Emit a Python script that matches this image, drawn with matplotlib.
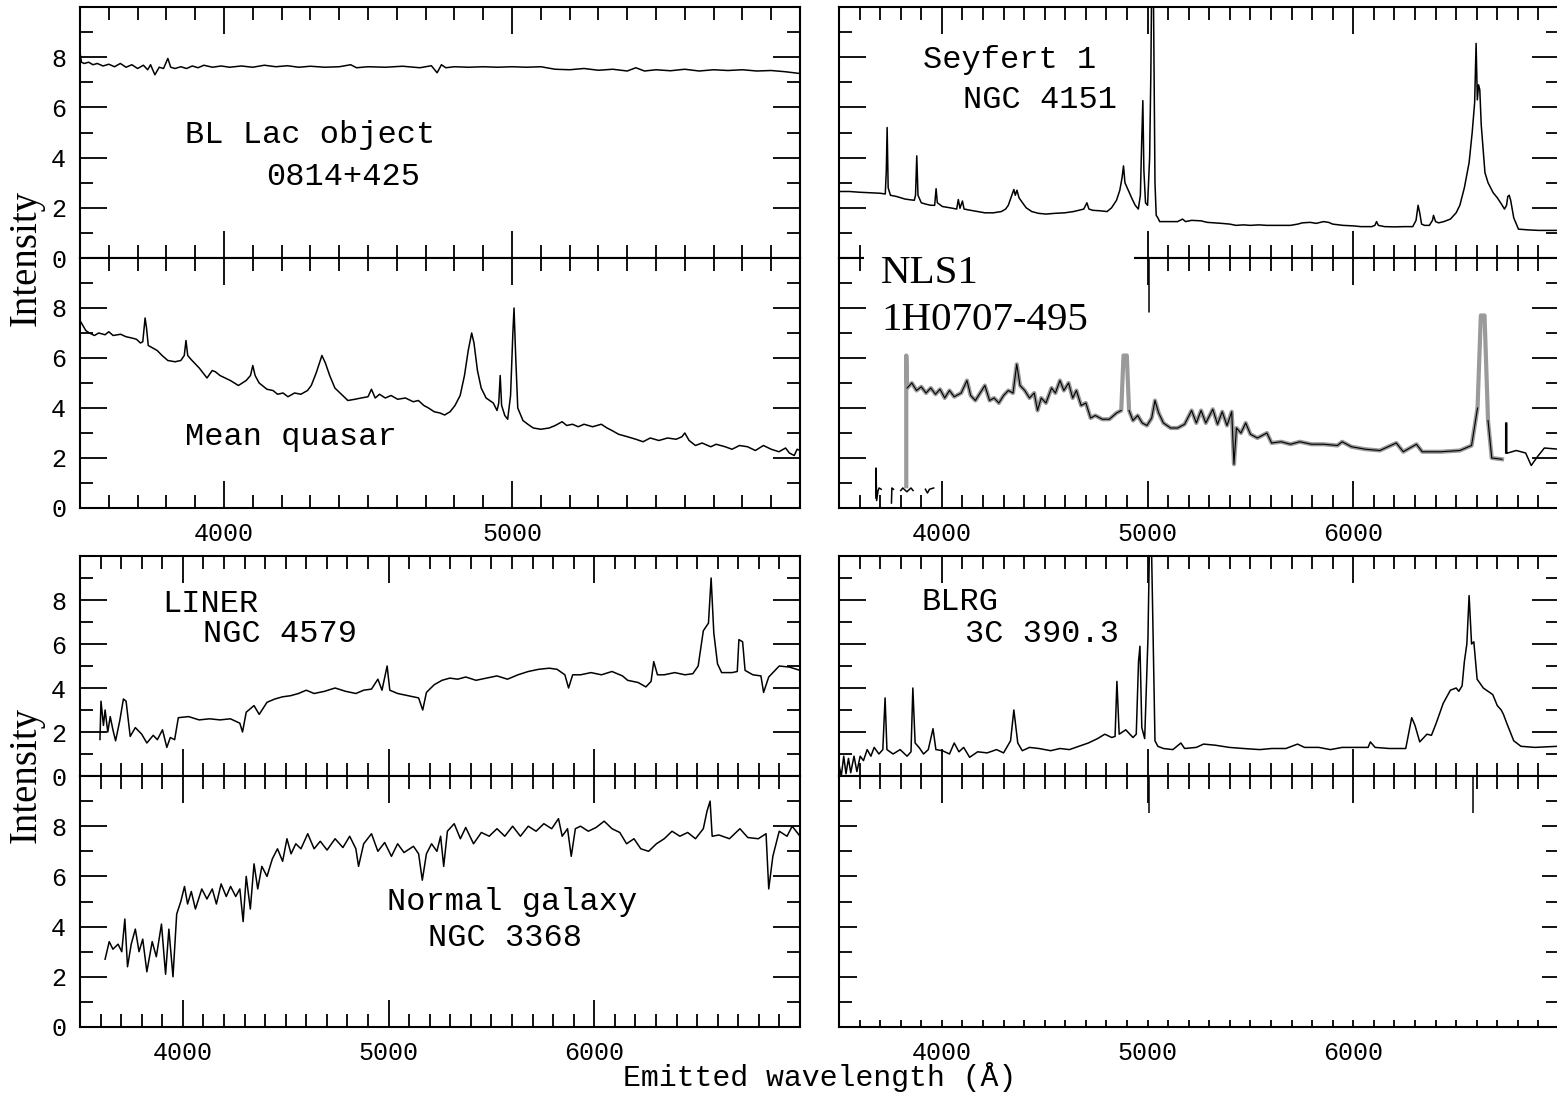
import numpy as np
import matplotlib.pyplot as plt
from matplotlib.ticker import FixedLocator, MultipleLocator
from matplotlib.patches import Rectangle

plt.rcParams['font.family'] = ['Liberation Mono', 'DejaVu Sans Mono']

W, H = 1557, 1094
nan = np.nan

# ---- spectra: (wavelength in Angstrom, intensity) ----
bllac = [(3500, 8.2), (3505, 7.8), (3515, 7.75), (3530, 7.8), (3545, 7.7), (3560, 7.75),
         (3580, 7.65), (3600, 7.72), (3620, 7.62), (3640, 7.75), (3660, 7.6), (3680, 7.7),
         (3700, 7.55), (3720, 7.68), (3735, 7.5), (3745, 7.7), (3760, 7.3), (3775, 7.6),
         (3790, 7.55), (3805, 7.95), (3815, 7.6), (3830, 7.55), (3850, 7.62), (3870, 7.55),
         (3890, 7.65), (3910, 7.58), (3930, 7.68), (3960, 7.6), (3990, 7.65), (4020, 7.6),
         (4060, 7.65), (4100, 7.6), (4140, 7.68), (4180, 7.62), (4220, 7.66), (4260, 7.6),
         (4300, 7.64), (4350, 7.6), (4400, 7.62), (4440, 7.7), (4460, 7.58), (4500, 7.62),
         (4560, 7.6), (4620, 7.64), (4680, 7.58), (4720, 7.66), (4740, 7.38), (4755, 7.7),
         (4770, 7.58), (4800, 7.62), (4850, 7.6), (4900, 7.62), (4950, 7.6), (5000, 7.62),
         (5050, 7.6), (5100, 7.62), (5150, 7.52), (5200, 7.5), (5250, 7.55), (5300, 7.48),
         (5350, 7.52), (5400, 7.45), (5430, 7.58), (5460, 7.45), (5500, 7.5), (5550, 7.46),
         (5600, 7.52), (5650, 7.45), (5700, 7.5), (5750, 7.47), (5800, 7.5), (5850, 7.45),
         (5900, 7.47), (5950, 7.42), (6000, 7.35)]

quasar = [(3500, 7.5), (3510, 7.3), (3520, 7.1), (3533, 7.0), (3550, 6.9), (3565, 7.0),
          (3587, 6.93), (3600, 7.05), (3615, 6.9), (3641, 6.95), (3660, 6.85), (3680, 6.8),
          (3696, 6.75), (3710, 6.6), (3718, 6.65), (3726, 7.6), (3731, 7.2), (3737, 6.5),
          (3745, 6.45), (3768, 6.3), (3785, 6.1), (3805, 5.9), (3830, 5.85), (3850, 5.9),
          (3862, 6.1), (3868, 6.7), (3874, 6.1), (3885, 5.95), (3914, 5.6), (3941, 5.2),
          (3959, 5.5), (3970, 5.45), (3986, 5.3), (4022, 5.1), (4050, 4.9), (4077, 5.1),
          (4092, 5.3), (4100, 5.7), (4108, 5.3), (4122, 5.0), (4149, 4.75), (4170, 4.7),
          (4186, 4.55), (4205, 4.6), (4222, 4.45), (4245, 4.6), (4267, 4.55), (4290, 4.7),
          (4303, 4.9), (4320, 5.4), (4340, 6.1), (4352, 5.8), (4367, 5.3), (4385, 4.8),
          (4403, 4.6), (4430, 4.3), (4455, 4.35), (4476, 4.4), (4500, 4.45), (4512, 4.75),
          (4525, 4.4), (4540, 4.55), (4560, 4.4), (4580, 4.5), (4603, 4.35), (4630, 4.4),
          (4657, 4.25), (4675, 4.3), (4694, 4.1), (4710, 4.0), (4730, 3.85), (4750, 3.8),
          (4766, 3.72), (4785, 3.85), (4802, 4.1), (4820, 4.5), (4835, 5.3), (4848, 6.3),
          (4860, 7.0), (4868, 6.6), (4880, 5.5), (4893, 4.8), (4910, 4.4), (4935, 4.2),
          (4948, 3.9), (4954, 4.2), (4959, 5.3), (4964, 4.1), (4975, 3.7), (4985, 3.55),
          (4995, 4.5), (5003, 7.0), (5007, 8.0), (5013, 6.0), (5020, 4.0), (5038, 3.5),
          (5055, 3.35), (5074, 3.2), (5100, 3.15), (5129, 3.2), (5150, 3.3), (5174, 3.45),
          (5190, 3.3), (5210, 3.35), (5230, 3.25), (5250, 3.35), (5280, 3.25), (5310, 3.35),
          (5330, 3.2), (5347, 3.1), (5370, 2.95), (5401, 2.85), (5430, 2.75), (5455, 2.65),
          (5480, 2.8), (5510, 2.7), (5540, 2.8), (5570, 2.75), (5590, 2.85), (5600, 3.0),
          (5615, 2.7), (5637, 2.5), (5660, 2.6), (5690, 2.45), (5709, 2.55), (5740, 2.45),
          (5764, 2.35), (5790, 2.5), (5818, 2.45), (5845, 2.3), (5873, 2.5), (5900, 2.35),
          (5927, 2.25), (5950, 2.4), (5963, 2.2), (5980, 2.1), (5990, 2.35), (6000, 2.3)]

seyfert1 = [(3500, 2.65), (3550, 2.65), (3600, 2.62), (3650, 2.6), (3700, 2.58), (3725, 2.55),
            (3730, 3.5), (3734, 5.2), (3739, 2.8), (3750, 2.5), (3780, 2.45), (3800, 2.4),
            (3820, 2.35), (3845, 2.32), (3866, 2.3), (3872, 2.5), (3878, 4.07), (3884, 2.5),
            (3900, 2.2), (3920, 2.15), (3946, 2.1), (3965, 2.1), (3972, 2.76), (3978, 2.2),
            (4003, 2.05), (4040, 2.0), (4072, 1.95), (4080, 2.33), (4088, 1.98), (4100, 2.27),
            (4108, 1.95), (4140, 1.9), (4175, 1.85), (4209, 1.8), (4250, 1.8), (4289, 1.85),
            (4310, 1.95), (4323, 2.1), (4340, 2.5), (4350, 2.73), (4357, 2.5), (4365, 2.7),
            (4375, 2.4), (4392, 2.2), (4410, 2.0), (4437, 1.85), (4470, 1.78), (4506, 1.75),
            (4550, 1.78), (4597, 1.8), (4640, 1.85), (4666, 1.9), (4690, 1.95), (4705, 2.2),
            (4715, 1.95), (4734, 1.9), (4770, 1.88), (4803, 1.85), (4825, 2.0), (4849, 2.3),
            (4865, 2.7), (4876, 3.2), (4883, 3.67), (4890, 3.0), (4906, 2.7), (4925, 2.35),
            (4940, 2.1), (4955, 1.95), (4965, 2.5), (4971, 4.5), (4977, 6.27), (4982, 3.5),
            (4990, 2.2), (5000, 2.1), (5010, 4.0), (5016, 7.4), (5020, 11.0), (5028, 11.0),
            (5032, 7.0), (5036, 3.0), (5042, 1.7), (5050, 1.6), (5059, 1.45), (5100, 1.45),
            (5146, 1.45), (5170, 1.55), (5185, 1.45), (5214, 1.5), (5260, 1.48), (5290, 1.42),
            (5329, 1.4), (5360, 1.38), (5400, 1.35), (5430, 1.3), (5466, 1.32), (5500, 1.3),
            (5540, 1.32), (5580, 1.3), (5640, 1.3), (5695, 1.3), (5730, 1.35), (5752, 1.4),
            (5790, 1.42), (5820, 1.38), (5855, 1.45), (5880, 1.42), (5900, 1.35), (5950, 1.3),
            (6000, 1.28), (6037, 1.25), (6090, 1.25), (6105, 1.3), (6113, 1.45), (6122, 1.3),
            (6152, 1.25), (6200, 1.24), (6250, 1.25), (6289, 1.25), (6305, 1.5), (6315, 2.1),
            (6323, 1.8), (6332, 1.35), (6346, 1.3), (6370, 1.3), (6385, 1.5), (6390, 1.7),
            (6400, 1.45), (6415, 1.4), (6440, 1.45), (6472, 1.55), (6500, 1.8), (6518, 2.1),
            (6540, 2.8), (6563, 3.8), (6578, 5.0), (6590, 6.2), (6597, 8.55), (6603, 6.3),
            (6609, 6.9), (6615, 6.7), (6622, 5.3), (6640, 3.4), (6655, 3.0), (6680, 2.6),
            (6700, 2.4), (6720, 2.15), (6735, 1.95), (6745, 2.1), (6751, 2.45), (6758, 2.5),
            (6765, 2.3), (6780, 1.6), (6803, 1.15), (6850, 1.12), (6900, 1.1), (6950, 1.1),
            (7000, 1.1)]

nls1 = [(3827, 0.87), (3827, 6.1), (3831, 4.8), (3854, 5.0), (3877, 4.7), (3900, 4.85),
        (3923, 4.6), (3946, 4.8), (3969, 4.55), (3991, 4.75), (4014, 4.4), (4037, 4.7),
        (4060, 4.45), (4094, 4.6), (4122, 5.1), (4140, 4.5), (4163, 4.3), (4186, 4.6),
        (4209, 4.9), (4232, 4.3), (4254, 4.4), (4277, 4.2), (4300, 4.5), (4323, 4.7),
        (4346, 4.6), (4364, 5.75), (4380, 4.9), (4403, 4.7), (4426, 4.4), (4449, 4.6),
        (4465, 3.9), (4483, 4.4), (4506, 4.2), (4533, 4.8), (4552, 4.6), (4574, 5.1),
        (4593, 4.7), (4616, 5.0), (4636, 4.4), (4654, 4.7), (4677, 4.1), (4700, 4.2),
        (4723, 3.6), (4746, 3.7), (4780, 3.55), (4814, 3.55), (4849, 3.8), (4872, 3.9),
        (4883, 6.1), (4899, 6.1), (4910, 3.9), (4929, 3.5), (4952, 3.7), (4974, 3.4),
        (4997, 3.3), (5020, 3.6), (5036, 4.3), (5054, 3.8), (5077, 3.4), (5112, 3.2),
        (5146, 3.2), (5180, 3.35), (5214, 3.9), (5237, 3.4), (5260, 3.9), (5283, 3.4),
        (5317, 3.95), (5340, 3.35), (5363, 3.85), (5386, 3.3), (5409, 3.85), (5420, 1.75),
        (5432, 3.2), (5454, 3.0), (5477, 3.4), (5500, 2.95), (5534, 2.8), (5580, 3.0),
        (5603, 2.6), (5649, 2.65), (5695, 2.55), (5740, 2.65), (5797, 2.55), (5855, 2.55),
        (5923, 2.5), (5946, 2.65), (5991, 2.45), (6060, 2.35), (6129, 2.3), (6209, 2.6),
        (6243, 2.25), (6307, 2.55), (6335, 2.25), (6426, 2.25), (6518, 2.3), (6575, 2.5),
        (6604, 4.0), (6620, 7.7), (6638, 7.7), (6655, 3.5), (6673, 2.0), (6723, 1.95)]

# bits of the older spectrum left visible under the pasted NLS1 plot
nls1_rest = [(3680, 0.4), (3680, 1.6), (3683, 0.3), (3690, 0.7), (3695, 0.8), (3705, 0.75),
             (nan, nan), (3755, 0.2), (3757, 0.8), (3765, 0.75), (nan, nan),
             (3800, 0.7), (3810, 0.8), (3830, 0.65), (3850, 0.8), (3860, 0.7), (nan, nan),
             (3920, 0.75), (3930, 0.6), (3940, 0.75), (3960, 0.8), (nan, nan),
             (5007, 10.0), (5007, 7.85), (nan, nan),
             (6741, 2.2), (6741, 3.4), (6746, 3.4), (6746, 2.2), (6751, 2.2), (6792, 2.3),
             (6838, 2.2), (6865, 1.7), (6895, 2.05), (6929, 2.4), (7000, 2.35)]

liner = [(3597, 1.66), (3602, 3.4), (3614, 2.3), (3622, 3.0), (3635, 2.0), (3647, 2.7),
         (3660, 2.1), (3673, 1.6), (3693, 2.5), (3711, 3.5), (3724, 3.4), (3744, 1.8),
         (3769, 2.2), (3800, 1.9), (3825, 1.5), (3856, 1.85), (3876, 1.65), (3901, 2.1),
         (3922, 1.3), (3939, 1.75), (3960, 1.65), (3978, 2.65), (4028, 2.7), (4079, 2.55),
         (4130, 2.6), (4181, 2.55), (4231, 2.6), (4277, 2.4), (4290, 2.0), (4308, 2.9),
         (4346, 3.2), (4371, 2.8), (4409, 3.35), (4447, 3.5), (4485, 3.6), (4524, 3.65),
         (4562, 3.75), (4600, 3.9), (4638, 3.75), (4689, 3.85), (4740, 4.0), (4791, 3.85),
         (4841, 3.75), (4879, 3.9), (4917, 3.95), (4948, 4.4), (4968, 3.9), (4993, 5.0),
         (5006, 3.9), (5044, 3.75), (5095, 3.65), (5146, 3.55), (5166, 3.0), (5184, 3.8),
         (5222, 4.15), (5260, 4.35), (5298, 4.45), (5336, 4.4), (5375, 4.5), (5425, 4.35),
         (5476, 4.45), (5527, 4.55), (5578, 4.4), (5629, 4.6), (5679, 4.75), (5730, 4.85),
         (5781, 4.9), (5819, 4.85), (5857, 4.6), (5875, 4.0), (5895, 4.6), (5933, 4.6),
         (5984, 4.7), (6035, 4.6), (6086, 4.75), (6137, 4.55), (6162, 4.35), (6213, 4.25),
         (6251, 4.05), (6276, 4.3), (6289, 5.2), (6307, 4.6), (6340, 4.6), (6391, 4.7),
         (6441, 4.6), (6479, 4.65), (6505, 5.0), (6530, 6.6), (6555, 6.95), (6568, 9.0),
         (6581, 6.5), (6599, 5.1), (6619, 4.7), (6670, 4.7), (6695, 4.75), (6703, 6.2),
         (6721, 6.1), (6733, 4.8), (6771, 4.6), (6810, 4.55), (6823, 3.8), (6848, 4.5),
         (6899, 5.0), (6949, 4.95), (7000, 4.8)]

galaxy = [(3622, 2.7), (3642, 3.4), (3660, 3.1), (3685, 3.3), (3703, 3.0), (3718, 4.3),
          (3731, 2.4), (3749, 3.3), (3769, 3.9), (3787, 3.0), (3805, 3.5), (3825, 2.2),
          (3851, 3.4), (3871, 2.8), (3896, 4.1), (3916, 2.1), (3932, 3.9), (3952, 2.0),
          (3970, 4.5), (3990, 5.0), (4008, 5.6), (4023, 4.9), (4041, 5.4), (4061, 4.7),
          (4092, 5.5), (4117, 5.1), (4143, 5.5), (4163, 4.9), (4186, 5.7), (4211, 5.2),
          (4232, 5.6), (4257, 5.2), (4277, 5.5), (4293, 4.2), (4308, 6.0), (4328, 4.7),
          (4346, 6.5), (4364, 5.5), (4384, 6.4), (4409, 6.0), (4435, 6.7), (4460, 7.1),
          (4485, 6.6), (4506, 7.5), (4526, 6.9), (4549, 7.3), (4574, 7.1), (4607, 7.7),
          (4638, 7.1), (4668, 7.4), (4701, 7.05), (4740, 7.5), (4778, 7.15), (4811, 7.6),
          (4841, 7.1), (4854, 6.4), (4879, 7.3), (4917, 7.7), (4948, 7.0), (4981, 7.35),
          (5014, 6.8), (5044, 7.3), (5075, 6.95), (5121, 7.2), (5146, 6.9), (5164, 5.85),
          (5184, 6.9), (5209, 7.3), (5235, 7.0), (5253, 7.6), (5268, 6.4), (5286, 7.8),
          (5319, 8.1), (5349, 7.5), (5375, 7.95), (5413, 7.3), (5451, 7.75), (5489, 7.6),
          (5527, 7.9), (5565, 7.6), (5603, 8.0), (5641, 7.6), (5679, 8.0), (5717, 7.8),
          (5755, 8.1), (5793, 7.9), (5826, 8.3), (5844, 7.6), (5870, 7.9), (5888, 6.8),
          (5908, 7.9), (5933, 8.0), (5971, 7.8), (6009, 7.95), (6048, 8.2), (6086, 7.9),
          (6124, 7.75), (6157, 7.3), (6193, 7.5), (6226, 7.1), (6264, 7.0), (6302, 7.3),
          (6340, 7.5), (6378, 7.8), (6416, 7.6), (6454, 7.75), (6492, 7.5), (6530, 7.9),
          (6548, 8.6), (6563, 9.0), (6573, 7.6), (6606, 7.65), (6657, 7.5), (6708, 7.9),
          (6746, 7.55), (6797, 7.5), (6835, 7.7), (6848, 5.5), (6868, 6.8), (6899, 7.8),
          (6937, 7.6), (6962, 8.0), (7000, 7.6)]

blrg = [(3500, 0.5), (3511, 0.0), (3523, 0.9), (3534, 0.1), (3546, 0.8), (3557, 0.15),
        (3573, 0.9), (3587, 0.2), (3603, 0.9), (3619, 0.7), (3637, 1.2), (3655, 0.9),
        (3671, 1.3), (3694, 1.0), (3713, 1.2), (3724, 3.55), (3733, 1.2), (3763, 1.0),
        (3797, 1.2), (3831, 0.9), (3850, 1.1), (3859, 4.0), (3870, 1.5), (3889, 1.3),
        (3911, 1.0), (3934, 1.2), (3957, 2.15), (3971, 1.2), (4003, 1.15), (4037, 1.0),
        (4060, 1.5), (4083, 1.1), (4106, 1.3), (4135, 0.85), (4174, 1.1), (4220, 1.05),
        (4266, 1.2), (4300, 1.05), (4334, 1.6), (4350, 3.0), (4369, 1.5), (4391, 1.15),
        (4426, 1.3), (4472, 1.25), (4529, 1.15), (4574, 1.25), (4620, 1.2), (4666, 1.35),
        (4712, 1.5), (4757, 1.7), (4792, 1.9), (4826, 1.75), (4842, 1.8), (4851, 4.3),
        (4862, 1.9), (4894, 2.1), (4929, 1.75), (4945, 1.9), (4956, 5.2), (4963, 5.9),
        (4972, 2.2), (4986, 1.7), (5002, 6.3), (5010, 11.0), (5018, 11.0), (5027, 6.3),
        (5036, 1.6), (5050, 1.35), (5077, 1.25), (5123, 1.2), (5162, 1.5), (5180, 1.25),
        (5237, 1.3), (5272, 1.45), (5329, 1.4), (5397, 1.3), (5466, 1.25), (5546, 1.2),
        (5603, 1.25), (5672, 1.25), (5729, 1.45), (5763, 1.3), (5832, 1.3), (5889, 1.2),
        (5946, 1.3), (6014, 1.3), (6072, 1.3), (6083, 1.55), (6106, 1.3), (6175, 1.25),
        (6255, 1.25), (6284, 2.65), (6300, 2.3), (6323, 1.55), (6358, 1.9), (6380, 1.85),
        (6403, 2.4), (6437, 3.3), (6472, 3.9), (6500, 4.0), (6513, 3.85), (6529, 4.1),
        (6540, 5.2), (6552, 6.0), (6563, 8.2), (6575, 6.0), (6586, 6.1), (6602, 4.4),
        (6632, 4.0), (6678, 3.7), (6700, 3.2), (6719, 3.0), (6730, 2.8), (6746, 2.4),
        (6780, 1.6), (6815, 1.35), (6883, 1.3), (6993, 1.35)]

# traces of the erased spectrum in the last panel
blank_rest = [(5007, 10.0), (5007, 8.3), (nan, nan), (6583, 10.0), (6583, 8.4), (6570, 8.4)]

fig = plt.figure(figsize=(W / 100, H / 100), dpi=100)


def box(x0, y0, x1, y1):
    # pixel box, origin at top left -> figure fraction
    return [x0 / W, 1 - y1 / H, (x1 - x0) / W, (y1 - y0) / H]


def panel(rect, xlim, xmajor, xlabels=False, ylabels=True):
    ax = fig.add_axes(rect)
    ax.set_xlim(*xlim)
    ax.set_ylim(0, 10)
    ax.xaxis.set_major_locator(FixedLocator(xmajor))
    ax.xaxis.set_minor_locator(MultipleLocator(100))
    ax.yaxis.set_major_locator(FixedLocator([0, 2, 4, 6, 8]))
    ax.yaxis.set_minor_locator(MultipleLocator(1))
    ax.tick_params(which='both', direction='in', top=True, right=True, width=1.3,
                   labelsize=18, labelbottom=xlabels, labelleft=ylabels)
    ax.tick_params(which='major', length=19.5)
    ax.tick_params(which='minor', length=9.5)
    ax.tick_params(axis='x', pad=10)
    ax.tick_params(axis='y', pad=10)
    for s in ax.spines.values():
        s.set_linewidth(1.5)
    return ax


def spec(ax, pts, **kw):
    wl, fl = zip(*pts)
    ax.plot(wl, fl, color='black', lw=1.1, **kw)


ax1 = panel(box(80, 7, 800, 258), (3500, 6000), [4000, 5000])
ax2 = panel(box(80, 258, 800, 508), (3500, 6000), [4000, 5000], xlabels=True)
ax3 = panel(box(839, 7, 1559, 258), (3500, 7000), [4000, 5000, 6000], ylabels=False)
ax4 = panel(box(839, 258, 1559, 508), (3500, 7000), [4000, 5000, 6000], xlabels=True, ylabels=False)
ax5 = panel(box(80, 556, 800, 776), (3500, 7000), [4000, 5000, 6000])
ax6 = panel(box(80, 776, 800, 1027), (3500, 7000), [4000, 5000, 6000], xlabels=True)
ax7 = panel(box(839, 556, 1559, 776), (3500, 7000), [4000, 5000, 6000], ylabels=False)
ax8 = panel(box(839, 776, 1559, 1027), (3500, 7000), [4000, 5000, 6000], xlabels=True, ylabels=False)

spec(ax1, bllac)
spec(ax2, quasar)
spec(ax3, seyfert1)
spec(ax5, liner)
spec(ax6, galaxy)
spec(ax7, blrg)
spec(ax4, nls1_rest)
spec(ax8, blank_rest)

# pasted NLS1 spectrum: grey trace with a thin black line inside
wl, fl = map(np.array, zip(*nls1))
ax4.plot(wl, fl, color='#9a9a9a', lw=3.0)
inner = np.where(fl > 5.9, np.nan, fl)
ax4.plot(wl[2:], inner[2:], color='black', lw=0.8)

# white patches where the original figure was blanked out
for x0, y0, x1, y1 in [(864, 226, 1134, 292), (857, 813, 1542, 1020)]:
    fig.add_artist(Rectangle((x0 / W, 1 - y1 / H), (x1 - x0) / W, (y1 - y0) / H,
                             transform=fig.transFigure, facecolor='white',
                             edgecolor='none', zorder=2))

labels = [("BL Lac object", 185, 143), ("0814+425", 266, 185),
          ("Mean quasar", 185, 445),
          ("Seyfert 1", 923, 68), ("NGC 4151", 963, 108),
          ("LINER", 162, 612), ("NGC 4579", 203, 642),
          ("Normal galaxy", 387, 910), ("NGC 3368", 428, 946),
          ("BLRG", 922, 610), ("3C 390.3", 965, 642)]
for s, x, y in labels:
    fig.text(x / W, 1 - y / H, s, fontsize=23, va='baseline', ha='left', zorder=4)

fig.text(881 / W, 1 - 283 / H, "NLS1", family='Liberation Serif', fontsize=29.5,
         va='baseline', zorder=4)
fig.text(881 / W, 1 - 330 / H, "1H0707-495", family='Liberation Serif', fontsize=29.5,
         va='baseline', zorder=4)

for yc in (258, 775):
    fig.text(26 / W, 1 - yc / H, "Intensity", family='Liberation Serif', fontsize=28,
             rotation=90, ha='center', va='center')

fig.text(819.5 / W, 1 - 1086 / H, "Emitted wavelength (Å)", fontsize=21.5,
         ha='center', va='baseline')

fig.savefig('out.png', dpi=100)
